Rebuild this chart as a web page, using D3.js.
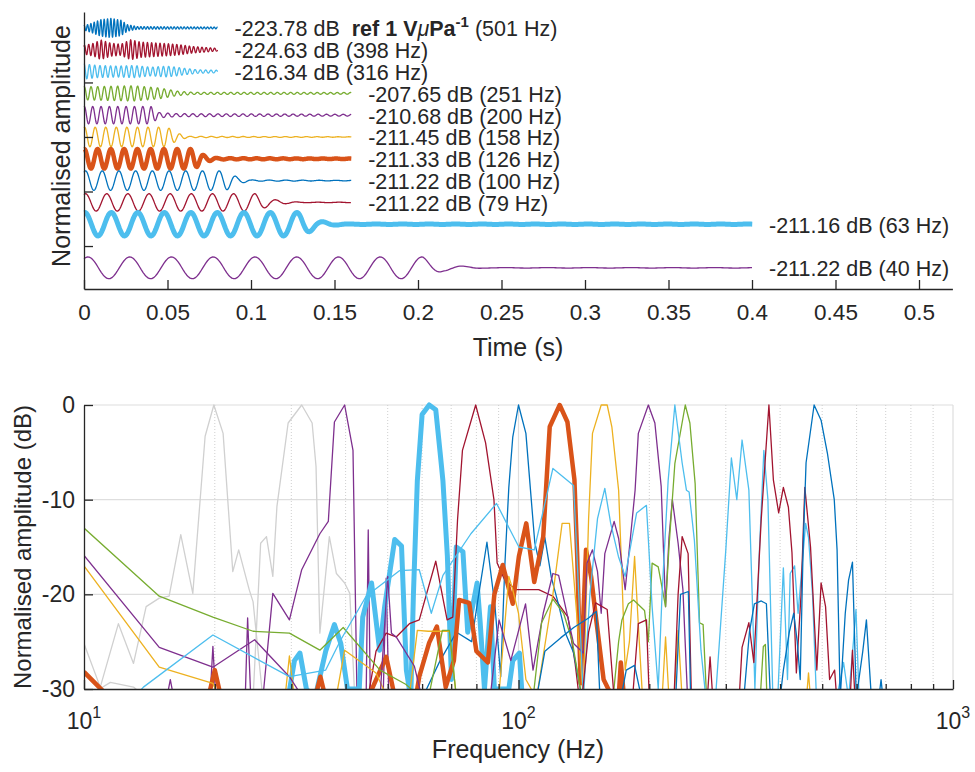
<!DOCTYPE html>
<html>
<head>
<meta charset="utf-8">
<script src="https://cdn.jsdelivr.net/npm/d3@7"></script>
<style>
  body { margin: 0; background: #ffffff; }
  svg text { font-family: Arial, "Liberation Sans", Helvetica, sans-serif; fill: #262626; }
</style>
</head>
<body>
<div id="chart"></div>
<script>
// Tone bursts (top panel), one entry per trace, top row first
const burstFreqs = [501, 398, 316, 251, 200, 158, 126, 100, 79, 63, 40];
const burstRows = [0, 1, 2, 3, 4, 5, 6, 7, 8, 9, 11];
const burstLevels = ['-223.78', '-224.63', '-216.34', '-207.65', '-210.68', '-211.45',
  '-211.33', '-211.22', '-211.22', '-211.16', '-211.22'];
const burstRecordEnd = [0.08, 0.08, 0.08, 0.16, 0.16, 0.16, 0.16, 0.16, 0.16, 0.4, 0.4];
const burstPhase = [1.2, 0.8, 1.4, 1.2, 1.3, 1.2, 1.4, 1.0, 1.1, 1.39, 0.97];
const burstColors = ['#0072BD', '#A2142F', '#4DBEEE', '#77AC30', '#7E2F8E', '#EDB120',
  '#D95319', '#0072BD', '#A2142F', '#4DBEEE', '#7E2F8E'];
const burstWidths = [1.3, 1.3, 1.3, 1.3, 1.3, 1.3, 4.5, 1.3, 1.3, 5, 1.3];

// Amplitude envelopes: [time (s), amplitude in row units]
const env501 = [[0, 0.1], [0.004, 0.2], [0.01, 0.38], [0.016, 0.44], [0.022, 0.36], [0.026, 0.15], [0.032, 0.06], [0.08, 0.04]];
const env398 = [[0, 0.2], [0.006, 0.3], [0.01, 0.45], [0.016, 0.3], [0.022, 0.25], [0.028, 0.46], [0.034, 0.35], [0.045, 0.3], [0.055, 0.25], [0.065, 0.15], [0.08, 0.06]];
const env316 = [[0, 0.35], [0.008, 0.28], [0.02, 0.25], [0.03, 0.28], [0.04, 0.2], [0.05, 0.25], [0.06, 0.15], [0.068, 0.08], [0.08, 0.06]];
const env251 = [[0, 0.3], [0.03, 0.35], [0.045, 0.25], [0.056, 0.1], [0.065, 0.05], [0.16, 0.04]];
const env200 = [[0, 0.4], [0.04, 0.4], [0.045, 0.12], [0.055, 0.07], [0.16, 0.04]];
const env158 = [[0, 0.45], [0.05, 0.45], [0.055, 0.2], [0.062, 0.03], [0.16, 0.01]];
const env126 = [[0, 0.45], [0.066, 0.45], [0.072, 0.15], [0.08, 0.03], [0.16, 0.01]];
const env100 = [[0, 0.45], [0.085, 0.45], [0.092, 0.15], [0.1, 0.03], [0.16, 0.01]];
const env79 = [[0, 0.4], [0.103, 0.4], [0.112, 0.15], [0.122, 0.05], [0.13, 0.01], [0.16, 0.01]];
const env63 = [[0, 0.54], [0.13, 0.54], [0.14, 0.15], [0.15, 0.04], [0.16, 0.01], [0.4, 0.01]];
const env40 = [[0, 0.5], [0.203, 0.5], [0.215, 0.15], [0.23, 0.06], [0.24, 0.01], [0.4, 0.01]];
const burstEnvelopes = [env501, env398, env316, env251, env200, env158, env126, env100, env79, env63, env40];

const timeTicks = [0, 0.05, 0.1, 0.15, 0.2, 0.25, 0.3, 0.35, 0.4, 0.45, 0.5];
const rowTicks = [2.5, 5, 7.5, 10];

// Spectra (bottom panel): [frequency (Hz), normalised amplitude (dB)]
const specGrey20 = [[10, -25.2], [10.9, -29.8], [12, -23.1], [13, -27.3], [13.9, -21.3], [14.9, -20.4], [15.7, -20.2], [16.7, -13.7], [17.8, -19.9], [19, -3.3], [19.9, 0], [20.9, -3], [22, -17.6], [22.7, -15.3], [24, -19.5], [24.5, -20.8], [25.8, -31]];
const specGrey32 = [[10, -31], [11.5, -29.3], [13, -29.8], [14, -31], [24.5, -31], [25.5, -14.6], [26.3, -13.9], [27.2, -18.1], [27.8, -10.7], [29.5, -1.9], [31.7, 0], [33.5, -1.9], [34.2, -6.5], [34.9, -24.1], [36.7, -13.9], [38.1, -17.8], [39.8, -18.8], [40.9, -19.9], [42, -31]];
const spec40 = [[15.5, -31], [15.8, -29], [16.1, -31], [19.5, -31], [19.8, -25.5], [20.1, -31], [23.5, -31], [23.8, -22.5], [24.2, -31], [25.8, -31], [27.2, -19.9], [29.7, -22.7], [31.7, -17.4], [34.9, -13.6], [36.5, -12.3], [37.7, -1.8], [39.8, 0], [41.6, -4.8], [42.5, -31], [44.6, -31], [45.1, -13.2], [45.6, -31], [48.8, -31], [49.6, -18.3], [50.3, -31]];
const spec63 = [[29.5, -31], [30.5, -27], [31.4, -26.2], [32.5, -30], [34, -31], [36, -26], [37.7, -23.2], [39, -25.2], [40.4, -30], [43, -30], [43.8, -22.4], [45.9, -18.8], [47.9, -25.9], [49.2, -21.3], [51.9, -14.2], [53.8, -14.9], [55.2, -28], [56.5, -31], [57.3, -20], [58.5, -8], [60, -1], [62.3, 0], [64.5, -0.5], [66, -5], [67, -8], [68.6, -16], [70.1, -29], [71.9, -15], [74.5, -15.5], [76.4, -24], [80.3, -18.8], [81.6, -22.9], [83.5, -30], [86.2, -21.3], [88, -30], [95, -30], [97, -27], [100.5, -26.2], [102, -31]];
const spec79 = [[45, -31], [47, -26], [49.6, -24.1], [52.3, -24.5], [56.1, -23.1], [59.1, -22.7], [64.5, -16.5], [68.5, -22.7], [70.6, -22.4], [72.4, -12.1], [74.3, -4.8], [79.7, 0], [84, -4], [87.8, -10], [89.3, -16.7], [93, -18.5], [98.5, -19.5], [103.8, -19.5], [111.3, -19.5], [120, -20.2], [130, -22.4], [135, -27.3], [138, -31]];
const spec100 = [[60, -31], [66, -27], [72, -24], [78, -25], [80.5, -20.8], [84.6, -14.5], [88.3, -21.3], [91, -28.7], [93, -17], [95, -8.7], [97, -3.4], [100, 0], [104, -3], [107, -10], [109, -14.5], [112, -17], [115, -14], [119, -18.2], [124, -21.3], [128, -24], [134, -26.2], [140, -31]];
const spec126 = [[10, -28.2], [11.5, -31], [19.3, -31], [20, -28], [20.7, -31], [34, -31], [35, -28.7], [36, -31], [45, -31], [49.6, -26.6], [52, -31], [58, -31], [59.1, -28.7], [62.3, -25.1], [64.9, -23.4], [68, -29.8], [71, -27], [73, -20.6], [77, -20.9], [80, -26], [85, -27.2], [88, -20], [92, -16.9], [97, -21], [100.2, -16], [104.2, -12.5], [108.7, -18.7], [114, -13.9], [118, -2.3], [124.4, 0], [129.6, -1.8], [134.5, -7.9], [136.5, -16], [139, -29.4], [143, -15.3], [147, -18.2], [150.7, -22.4], [157, -29], [165, -31], [170, -31], [172, -27.2], [175, -31]];
const spec158 = [[10, -17], [14.9, -27.7], [19.8, -29.4], [20.5, -31], [29, -31], [29.7, -26.5], [30.5, -31], [38, -31], [39.8, -25.9], [47, -28.3], [50, -31], [56, -31], [58.5, -23.8], [62, -23.9], [69.3, -23.9], [72, -31], [90, -31], [95, -18.1], [97, -19.5], [100, -22], [104, -29], [110, -31], [120, -20], [126, -12.5], [131, -12.5], [135, -20], [141, -31], [145, -12], [148, -3], [155, 0], [160, 0], [164, -2.3], [170, -9], [173, -18.1], [176, -28], [180, -25], [185, -16], [189, -23.8], [193, -31], [214, -31], [218, -24.5], [222, -31], [228, -31], [233, -23.8], [238, -31], [460, -31], [465, -28.3], [470, -31]];
const spec200 = [[10, -15.9], [14.9, -25.6], [19.8, -27.7], [24.7, -24.8], [29.7, -28.7], [32, -31], [48, -31], [50, -18.1], [51, -24.1], [52.3, -24.5], [57.6, -27.6], [60, -31], [86, -31], [90.2, -22.7], [96, -27], [103.8, -21], [108, -28], [114, -22], [120, -17.8], [123.7, -18], [133.9, -25.2], [141, -26.2], [143.8, -16.7], [148, -15.3], [152, -17.6], [155, -22], [158, -15.7], [166, -12.3], [170, -14.1], [176, -19.5], [181, -14], [185.5, -9], [188.7, -3], [199, 0], [206, -1.9], [213, -8.6], [218, -21.3], [222, -14], [226, -10], [233, -14.6], [239, -19.5], [245, -31]];
const spec251 = [[10, -13], [14.9, -20.2], [19.8, -22.4], [24.5, -23.9], [29.7, -24.1], [34.9, -25.9], [39.5, -23.5], [48, -28], [55, -29.5], [60, -31], [62, -31], [66.8, -23.8], [69.3, -23.8], [72, -31], [108, -31], [113, -23], [120, -20.5], [127, -22], [133, -25], [140, -31], [165, -31], [170, -25], [173, -22.7], [179, -21], [184, -20.6], [195, -21.7], [199, -25], [203, -16.7], [209.7, -17.1], [218, -21.3], [222, -15], [229, -6.2], [242, 0], [248, -1.9], [255, -8.3], [261, -23], [266, -23.2], [271, -31], [360, -31], [366, -25.5], [370, -25.3], [373, -31]];
const spec316 = [[13, -31], [13.7, -29.8], [19.8, -24.3], [29.7, -28.7], [36, -28], [39, -24.8], [44.6, -20.2], [53.2, -17.5], [59.1, -17.4], [63, -22], [67, -18], [77.7, -13.6], [89, -10.4], [100.2, -15], [108.7, -15.3], [120, -6.7], [133.9, -8.5], [137, -18], [141, -31], [146, -20], [152, -12], [158, -8.8], [163, -12.5], [169.8, -16], [176, -18.1], [187, -11.4], [197, -10.6], [203, -21.3], [209.7, -30], [214, -20], [221, -8], [229, 0], [238, -6.1], [243.5, -9], [247, -9.2], [254, -14.3], [263, -25.9], [270, -31], [284, -31], [300, -15.3], [309, -5.6], [318, -10], [327, -3.7], [339, -9], [345, -20], [350, -30], [358, -16], [367, -4.8], [375, -10], [385, -31], [395, -31], [407, -17.2], [416, -29], [422, -17.8], [432, -17], [440, -22], [458, -12.5], [465, -14], [475, -20], [485, -31], [540, -31], [560, -27.2], [575, -31], [590, -25], [598, -21.6], [608, -31]];
const spec398 = [[140, -31], [145, -24], [150.5, -20.9], [160, -21.6], [166, -31], [183, -31], [188.7, -23.1], [197, -22.7], [200, -31], [228, -31], [233, -20], [238, -13.9], [245.7, -15.7], [250, -31], [272, -31], [276, -26.6], [280, -31], [322, -31], [327, -25.6], [339, -23], [348, -27.2], [362, -12], [377, 0], [386, -7.9], [397, -11.4], [407, -8.7], [418, -10.8], [426, -15.6], [436, -28.3], [447, -20], [456, -8.7], [470, -15], [486, -28], [497, -18.8], [509, -21.3], [520, -29], [534, -28], [540, -31], [580, -31], [587, -25.9], [595, -31]];
const spec501 = [[110, -31], [115, -26], [125, -24.6], [134, -23.5], [145, -22.5], [151, -21.8], [154, -31], [172, -31], [177, -28], [185, -27.5], [192, -31], [230, -31], [236, -20], [246, -19.7], [249, -31], [330, -31], [340, -24], [349, -21], [362, -20.7], [372, -21], [380, -31], [400, -31], [407, -28], [420, -24], [430, -22], [438, -25], [445, -29], [452, -15], [459, -6.1], [479, 0], [497, -1.6], [514, -5.1], [533, -10], [541, -15.3], [550, -31], [565, -22], [575, -18.5], [587, -16.6], [599, -31], [620, -26], [632, -22.7], [649, -31], [675, -31], [683, -29], [690, -31]];

// drawing order follows the plotting order
const spectra = [specGrey20, specGrey32, spec40, spec63, spec79, spec100, spec126, spec158, spec200, spec251, spec316, spec398, spec501];
const spectraColors = ['#d0d0d0', '#d0d0d0', '#7E2F8E', '#4DBEEE', '#A2142F', '#0072BD', '#D95319', '#EDB120', '#7E2F8E', '#77AC30', '#4DBEEE', '#A2142F', '#0072BD'];
const spectraWidths = [1.3, 1.3, 1.3, 5, 1.3, 1.3, 4.5, 1.3, 1.3, 1.3, 1.3, 1.3, 1.3];

const freqMajor = [10, 100, 1000];
const freqMinor = [20, 30, 40, 50, 60, 70, 80, 90, 200, 300, 400, 500, 600, 700, 800, 900];
const dbTicks = [0, -10, -20, -30];

(function() {
  const W = 975, H = 772;
  const axisColor = '#262626';
  const gridColor = '#dedede';
  const fontStack = 'Arial, "Liberation Sans", sans-serif';

  const svg = d3.select('#chart').append('svg')
    .attr('width', W)
    .attr('height', H);

  // ---------- top panel: waveforms ----------
  const tScale = d3.scaleLinear().domain([0, 0.52]).range([84, 952.4]);
  const rowScale = d3.scaleLinear().domain([-0.73, 11.97]).range([12, 289]);

  const top = svg.append('g');

  burstFreqs.forEach(function(f, i) {
    const envScale = d3.scaleLinear()
      .domain(burstEnvelopes[i].map(d => d[0]))
      .range(burstEnvelopes[i].map(d => d[1]))
      .clamp(true);
    const dt = 1 / (f * 24);
    const pts = d3.range(0, burstRecordEnd[i] + dt / 2, dt).map(function(t) {
      const v = burstRows[i] - envScale(t) * Math.sin(2 * Math.PI * f * t + burstPhase[i]);
      return [t, v];
    });
    top.append('path')
      .datum(pts)
      .attr('fill', 'none')
      .attr('stroke', burstColors[i])
      .attr('stroke-width', burstWidths[i])
      .attr('stroke-linejoin', 'round')
      .attr('d', d3.line().x(d => tScale(d[0])).y(d => rowScale(d[1])));

    const label = top.append('text')
      .attr('x', tScale(burstRecordEnd[i]) + 17)
      .attr('y', rowScale(burstRows[i]) + 8.5)
      .style('font-size', '21.5px');
    label.append('tspan').text(burstLevels[i] + ' dB\u00a0');
    if (i === 0) {
      // reference unit shown only once, on the first row
      label.append('tspan').attr('font-weight', 'bold').text('\u00a0ref 1 V');
      label.append('tspan').attr('font-style', 'italic').text('μ');
      label.append('tspan').attr('font-weight', 'bold').text('Pa');
      label.append('tspan').attr('font-weight', 'bold').attr('dy', -9).style('font-size', '15px').text('-1');
      label.append('tspan').attr('dy', 9).text('\u00a0(' + f + ' Hz)');
    } else {
      label.append('tspan').text('(' + f + ' Hz)');
    }
  });

  // top axes
  const tAxis = d3.axisBottom(tScale)
    .tickValues(timeTicks)
    .tickFormat(d => String(d))
    .tickSizeInner(-9)
    .tickSizeOuter(0)
    .tickPadding(15);
  const tAxisG = top.append('g')
    .attr('transform', 'translate(0,289)')
    .call(tAxis);
  tAxisG.select('.domain').attr('stroke', axisColor).attr('stroke-width', 1.3);
  tAxisG.selectAll('.tick line').attr('stroke', axisColor).attr('stroke-width', 1.3);
  tAxisG.selectAll('.tick text')
    .attr('fill', axisColor)
    .style('font-size', '22.5px')
    .style('font-family', fontStack);

  const rAxis = d3.axisLeft(rowScale)
    .tickValues(rowTicks)
    .tickFormat('')
    .tickSizeInner(-9)
    .tickSizeOuter(0);
  const rAxisG = top.append('g')
    .attr('transform', 'translate(84,0)')
    .call(rAxis);
  rAxisG.select('.domain').attr('stroke', axisColor).attr('stroke-width', 1.3);
  rAxisG.selectAll('.tick line').attr('stroke', axisColor).attr('stroke-width', 1.3);

  top.append('text')
    .attr('x', 518)
    .attr('y', 356)
    .attr('text-anchor', 'middle')
    .style('font-size', '25px')
    .text('Time (s)');

  top.append('text')
    .attr('transform', 'translate(70,146) rotate(-90)')
    .attr('text-anchor', 'middle')
    .style('font-size', '25px')
    .text('Normalised amplitude');

  // ---------- bottom panel: spectra ----------
  const fScale = d3.scaleLog().domain([10, 1000]).range([84, 953]);
  const dbScale = d3.scaleLinear().domain([-30, 0]).range([689, 405]);

  const bottom = svg.append('g');

  // grid
  bottom.selectAll('.hgrid')
    .data(dbTicks.filter(d => d !== -30))
    .enter().append('line')
    .attr('x1', 84).attr('x2', 953)
    .attr('y1', d => dbScale(d)).attr('y2', d => dbScale(d))
    .attr('stroke', gridColor).attr('stroke-width', 1.2);
  bottom.selectAll('.vgrid')
    .data(freqMajor.filter(d => d !== 10))
    .enter().append('line')
    .attr('x1', d => fScale(d)).attr('x2', d => fScale(d))
    .attr('y1', 405).attr('y2', 689)
    .attr('stroke', gridColor).attr('stroke-width', 1.2);
  bottom.selectAll('.vminor')
    .data(freqMinor)
    .enter().append('line')
    .attr('x1', d => fScale(d)).attr('x2', d => fScale(d))
    .attr('y1', 405).attr('y2', 689)
    .attr('stroke', '#cfcfcf').attr('stroke-width', 1)
    .attr('stroke-dasharray', '1,2');

  bottom.append('clipPath').attr('id', 'specClip')
    .append('rect').attr('x', 84).attr('y', 398).attr('width', 869).attr('height', 291);

  const specLine = d3.line().x(d => fScale(d[0])).y(d => dbScale(d[1]));
  const specG = bottom.append('g').attr('clip-path', 'url(#specClip)');
  spectra.forEach(function(s, i) {
    specG.append('path')
      .datum(s)
      .attr('fill', 'none')
      .attr('stroke', spectraColors[i])
      .attr('stroke-width', spectraWidths[i])
      .attr('stroke-linejoin', 'round')
      .attr('d', specLine);
  });

  // axes
  const fAxis = d3.axisBottom(fScale)
    .tickValues(freqMajor.concat(freqMinor))
    .tickFormat('')
    .tickSizeInner(-6)
    .tickSizeOuter(0);
  const fAxisG = bottom.append('g')
    .attr('transform', 'translate(0,689)')
    .call(fAxis);
  fAxisG.select('.domain').attr('stroke', axisColor).attr('stroke-width', 1.3);
  fAxisG.selectAll('.tick line')
    .attr('stroke', axisColor)
    .attr('stroke-width', 1.3)
    .attr('y2', d => freqMajor.includes(d) ? -9 : -5);

  const fLabels = bottom.selectAll('.flabel')
    .data(freqMajor)
    .enter().append('text')
    .attr('x', d => fScale(d))
    .attr('y', 729)
    .attr('text-anchor', 'middle')
    .style('font-size', '23px');
  fLabels.append('tspan').text('10');
  fLabels.append('tspan')
    .attr('dy', -11)
    .style('font-size', '16px')
    .text(d => Math.round(Math.log10(d)));

  const dbAxis = d3.axisLeft(dbScale)
    .tickValues(dbTicks)
    .tickFormat(d => String(d))
    .tickSizeInner(-9)
    .tickSizeOuter(0)
    .tickPadding(9);
  const dbAxisG = bottom.append('g')
    .attr('transform', 'translate(84,0)')
    .call(dbAxis);
  dbAxisG.select('.domain').attr('stroke', axisColor).attr('stroke-width', 1.3);
  dbAxisG.selectAll('.tick line').attr('stroke', axisColor).attr('stroke-width', 1.3);
  dbAxisG.selectAll('.tick text')
    .attr('fill', axisColor)
    .style('font-size', '23px')
    .style('font-family', fontStack);

  bottom.append('text')
    .attr('x', 518)
    .attr('y', 758)
    .attr('text-anchor', 'middle')
    .style('font-size', '25px')
    .text('Frequency (Hz)');

  bottom.append('text')
    .attr('transform', 'translate(31,547) rotate(-90)')
    .attr('text-anchor', 'middle')
    .style('font-size', '24px')
    .text('Normalised amplitude (dB)');
})();
</script>
</body>
</html>
